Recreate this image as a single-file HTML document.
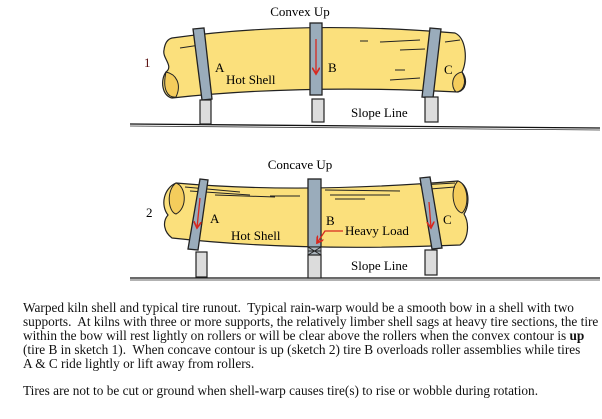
<!DOCTYPE html>
<html><head><meta charset="utf-8"><style>
html,body{margin:0;padding:0;background:#fff;width:602px;height:419px;overflow:hidden}
svg{position:absolute;left:0;top:0}
.t{position:absolute;left:23px;top:301px;font-family:"Liberation Serif",serif;font-size:13.3px;line-height:13.9px;color:#111;white-space:pre;margin:0}
</style></head><body>
<svg width="602" height="300" viewBox="0 0 602 300" font-family="Liberation Serif, serif" font-size="13">
<defs><marker id="ah" markerWidth="6" markerHeight="6" refX="5" refY="3" orient="auto"><path d="M0,0 L5,3 L0,6" fill="none" stroke="#d8281e" stroke-width="1.3"/></marker></defs>
<!-- Sketch 1 -->
<text x="300" y="16" text-anchor="middle">Convex Up</text>
<text x="144" y="67" fill="#5a1010">1</text>
<line x1="130" y1="124" x2="600" y2="128" stroke="#111" stroke-width="1.3"/>
<line x1="130" y1="126" x2="600" y2="130" stroke="#333" stroke-width="0.8"/>
<path d="M172,38 Q300,20 455,33 C466,38 468,60 462,72 C468,80 466,90 458,92 Q300,84 172,98 C162,96 160,80 166,72 C174,66 162,58 164,50 C165,42 168,39 172,38 Z" fill="#fbe07c" stroke="#222" stroke-width="1.2"/>
<path d="M166,72 C176,74 182,84 176,97 C168,98 162,90 166,72 Z" fill="#f4cc5c" stroke="#222" stroke-width="1"/>
<path d="M462,72 C452,74 450,86 456,92 C462,92 468,84 462,72 Z" fill="#f4cc5c" stroke="#222" stroke-width="1"/>
<g stroke="#222" stroke-width="1"><line x1="180" y1="48" x2="200" y2="45"/><line x1="360" y1="41" x2="368" y2="41"/><line x1="380" y1="42" x2="420" y2="40"/><line x1="400" y1="50" x2="425" y2="49"/><line x1="395" y1="70" x2="405" y2="70"/><line x1="390" y1="80" x2="420" y2="78"/><line x1="445" y1="42" x2="460" y2="40"/></g>
<polygon points="193,29 204,28 212,99 202,100" fill="#9aacbb" stroke="#222" stroke-width="1.3"/>
<rect x="310" y="23" width="12" height="72" fill="#9aacbb" stroke="#222" stroke-width="1.3"/>
<polygon points="430,28 441,29 433,98 422,97" fill="#9aacbb" stroke="#222" stroke-width="1.3"/>
<rect x="200" y="100" width="11" height="24" fill="#dcdcdc" stroke="#222" stroke-width="1.2"/>
<rect x="312" y="99" width="12" height="23" fill="#dcdcdc" stroke="#222" stroke-width="1.2"/>
<rect x="425" y="97" width="13" height="25" fill="#dcdcdc" stroke="#222" stroke-width="1.2"/>
<line x1="316" y1="39" x2="316" y2="74" stroke="#d8281e" stroke-width="1.3" marker-end="url(#ah)"/>
<text x="215" y="72">A</text><text x="226" y="84">Hot Shell</text><text x="328" y="72">B</text><text x="444" y="74">C</text>
<text x="351" y="117">Slope Line</text>
<!-- Sketch 2 -->
<text x="300" y="169" text-anchor="middle">Concave Up</text>
<text x="146" y="217">2</text>
<line x1="130" y1="278" x2="600" y2="278" stroke="#111" stroke-width="1.3"/>
<line x1="130" y1="280" x2="600" y2="280" stroke="#333" stroke-width="0.8"/>
<path d="M176,183 Q300,194 458,181 C470,186 470,205 464,214 C470,224 468,240 460,245 Q300,252 172,238 C164,232 162,222 168,215 C160,205 164,188 176,183 Z" fill="#fbe07c" stroke="#222" stroke-width="1.2"/>
<path d="M176,183 C186,186 188,208 176,214 C168,212 166,190 176,183 Z" fill="#f4cc5c" stroke="#222" stroke-width="1"/>
<path d="M458,181 C468,184 470,206 462,213 C452,210 450,188 458,181 Z" fill="#f4cc5c" stroke="#222" stroke-width="1"/>
<g stroke="#222" stroke-width="1"><line x1="185" y1="187" x2="240" y2="192"/><line x1="190" y1="191" x2="250" y2="195"/><line x1="215" y1="195" x2="275" y2="197"/><line x1="270" y1="196" x2="300" y2="196"/><line x1="325" y1="190" x2="400" y2="191"/><line x1="330" y1="195" x2="390" y2="195"/><line x1="335" y1="199" x2="365" y2="199"/><line x1="420" y1="185" x2="455" y2="183"/><line x1="430" y1="189" x2="455" y2="187"/></g>
<polygon points="200,179 208,180 198,250 188,249" fill="#9aacbb" stroke="#222" stroke-width="1.3"/>
<rect x="308" y="179" width="13" height="68" fill="#9aacbb" stroke="#222" stroke-width="1.3"/>
<rect x="308" y="247" width="13" height="8" fill="#aab4bc" stroke="#222" stroke-width="1"/>
<path d="M308,247 L321,255 M321,247 L308,255 M308,251 L321,251" stroke="#222" stroke-width="0.9"/>
<rect x="308" y="255" width="13" height="23" fill="#dcdcdc" stroke="#222" stroke-width="1.2"/>
<polygon points="420,178 430,177 442,248 432,249" fill="#9aacbb" stroke="#222" stroke-width="1.3"/>
<rect x="196" y="252" width="11" height="25" fill="#dcdcdc" stroke="#222" stroke-width="1.2"/>
<rect x="425" y="250" width="12" height="25" fill="#dcdcdc" stroke="#222" stroke-width="1.2"/>
<line x1="200" y1="198" x2="197" y2="228" stroke="#d8281e" stroke-width="1.3" marker-end="url(#ah)"/>
<line x1="429" y1="202" x2="431" y2="228" stroke="#d8281e" stroke-width="1.3" marker-end="url(#ah)"/>
<polyline points="343,231 325,231 317,243" fill="none" stroke="#d8281e" stroke-width="1.3" marker-end="url(#ah)"/>
<text x="210" y="223">A</text><text x="231" y="240">Hot Shell</text><text x="326" y="225">B</text><text x="345" y="235">Heavy Load</text><text x="443" y="224">C</text>
<text x="351" y="270">Slope Line</text>
</svg>
<p class="t">Warped kiln shell and typical tire runout.  Typical rain<b>-</b>warp would be a smooth bow in a shell with two
supports.  At kilns with three or more supports, the relatively limber shell sags at heavy tire sections, the tire
within the bow will rest lightly on rollers or will be clear above the rollers when the convex contour is <b>up</b>
(tire B in sketch 1).  When concave contour is up (sketch 2) tire B overloads roller assemblies while tires
A &amp; C ride lightly or lift away from rollers.

Tires are not to be cut or ground when shell<b>-</b>warp causes tire(s) to rise or wobble during rotation.</p>
</body></html>
